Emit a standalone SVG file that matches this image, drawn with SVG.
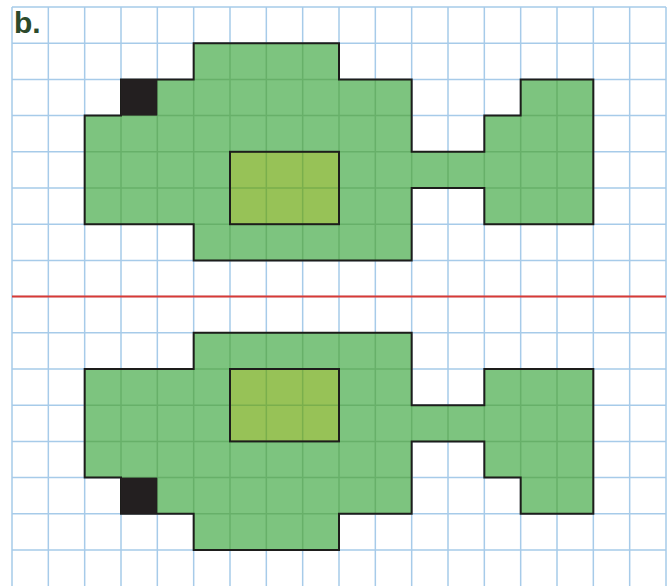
<svg xmlns="http://www.w3.org/2000/svg" xmlns:xlink="http://www.w3.org/1999/xlink" width="672" height="586" viewBox="0 0 672 586">
<style>
.grid{fill:none;stroke:#a7cbe9;stroke-width:1.5}
.ingrid{fill:none;stroke:#2e7d32;stroke-opacity:0.28;stroke-width:1.5}
.body{fill:#7dc47f}
.outline{fill:none;stroke:#1d1d1b;stroke-width:2;stroke-linejoin:miter}
.belly{fill:#97c257}
.eye{fill:#231f20}
</style>
<defs>
<path id="gridpath" d="M12 7V586M48.33 7V586M84.67 7V586M121 7V586M157.33 7V586M193.67 7V586M230 7V586M266.33 7V586M302.67 7V586M339 7V586M375.33 7V586M411.67 7V586M448 7V586M484.33 7V586M520.67 7V586M557 7V586M593.33 7V586M629.67 7V586M666 7V586M12 7H666M12 43.2H666M12 79.4H666M12 115.6H666M12 151.8H666M12 188H666M12 224.2H666M12 260.4H666M12 296.6H666M12 332.8H666M12 369H666M12 405.2H666M12 441.4H666M12 477.6H666M12 513.8H666M12 550H666"/>
<polygon id="fishShape" points="193.67,43.2 339,43.2 339,79.4 411.67,79.4 411.67,151.8 484.33,151.8 484.33,115.6 520.67,115.6 520.67,79.4 593.33,79.4 593.33,224.2 484.33,224.2 484.33,188 411.67,188 411.67,260.4 193.67,260.4 193.67,224.2 84.67,224.2 84.67,115.6 121,115.6 121,79.4 193.67,79.4"/>
<clipPath id="clipTop"><use xlink:href="#fishShape"/></clipPath>
<clipPath id="clipBottom"><use xlink:href="#fishShape" transform="translate(0,593.2) scale(1,-1)"/></clipPath>
</defs>
<rect x="0" y="0" width="672" height="586" fill="#ffffff"/>
<use xlink:href="#gridpath" class="grid"/>
<text x="14" y="33" font-family="'Liberation Sans', Arial, sans-serif" font-weight="bold" font-size="30" fill="#2d4a2b">b.</text>
<g id="fish-top">
<use xlink:href="#fishShape" class="body"/>
<rect class="belly" x="230" y="151.8" width="109" height="72.4"/>
<use xlink:href="#gridpath" class="ingrid" clip-path="url(#clipTop)"/>
<use xlink:href="#fishShape" class="outline"/>
<rect class="eye" x="121" y="79.4" width="36.33" height="36.2"/>
<rect x="230" y="151.8" width="109" height="72.4" class="outline"/>
</g>
<g id="mirror-line">
<line x1="12" y1="296.6" x2="666" y2="296.6" stroke="#d93a35" stroke-width="2"/>
</g>
<g id="fish-bottom">
<g transform="translate(0,593.2) scale(1,-1)">
<use xlink:href="#fishShape" class="body"/>
<rect class="belly" x="230" y="151.8" width="109" height="72.4"/>
</g>
<use xlink:href="#gridpath" class="ingrid" clip-path="url(#clipBottom)"/>
<g transform="translate(0,593.2) scale(1,-1)">
<use xlink:href="#fishShape" class="outline"/>
<rect class="eye" x="121" y="79.4" width="36.33" height="36.2"/>
<rect x="230" y="151.8" width="109" height="72.4" class="outline"/>
</g>
</g>
</svg>
